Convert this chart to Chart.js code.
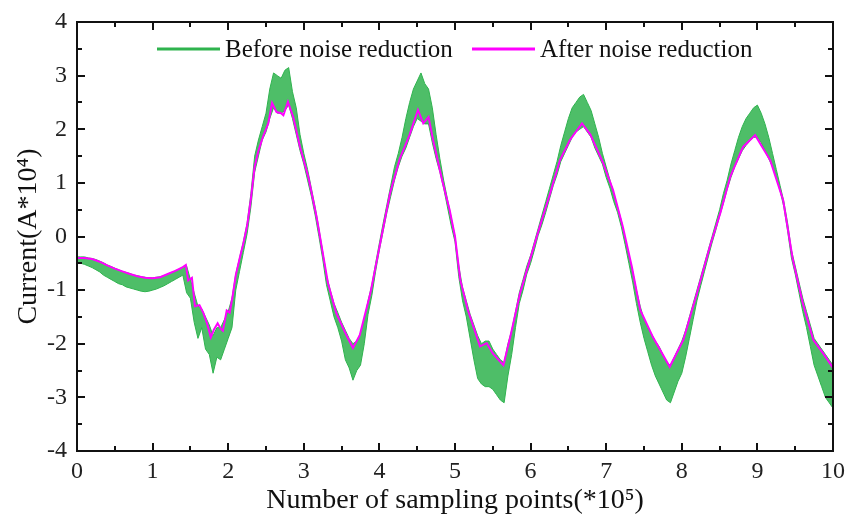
<!DOCTYPE html>
<html>
<head>
<meta charset="utf-8">
<script src="https://cdn.jsdelivr.net/npm/chart.js@4.4.1/dist/chart.umd.min.js"></script>
<style>
    html, body { margin: 0; padding: 0; background: #fff; }
</style>
</head>
<body>
<canvas id="currentChart" width="845" height="519"></canvas>
<script>
// Сигнал после шумоподавления (x в единицах *10^5, y в единицах A*10^4)
const afterX = [0, 0.1, 0.2, 0.3, 0.4, 0.5, 0.6, 0.7, 0.8, 0.9, 1.0, 1.1, 1.2, 1.3, 1.4, 1.44, 1.47, 1.52, 1.56,
    1.62, 1.67, 1.72, 1.77, 1.81, 1.86, 1.9, 1.93, 1.98, 2.02, 2.06, 2.1, 2.16, 2.2, 2.25, 2.3, 2.35, 2.4, 2.46,
    2.53, 2.58, 2.64, 2.7, 2.73, 2.79, 2.86, 2.95, 3.06, 3.17, 3.26, 3.32, 3.43, 3.55, 3.65, 3.74, 3.88, 4.01,
    4.14, 4.27, 4.4, 4.51, 4.58, 4.65, 4.71, 4.83, 4.93, 5.0, 5.07, 5.17, 5.26, 5.33, 5.42, 5.5, 5.64, 5.73,
    5.86, 5.99, 6.12, 6.26, 6.39, 6.52, 6.68, 6.79, 6.96, 7.09, 7.22, 7.34, 7.45, 7.62, 7.84, 8.02, 8.2, 8.37,
    8.51, 8.64, 8.81, 8.97, 9.17, 9.34, 9.47, 9.6, 9.74, 9.87, 10];
const afterY = [-0.40, -0.40, -0.42, -0.47, -0.54, -0.60, -0.65, -0.70, -0.74, -0.77, -0.78, -0.76, -0.70, -0.64,
    -0.57, -0.53, -0.82, -0.77, -1.30, -1.28, -1.42, -1.62, -1.88, -1.74, -1.62, -1.72, -1.76, -1.38, -1.42,
    -1.10, -0.72, -0.36, -0.13, 0.20, 0.70, 1.30, 1.60, 1.86, 2.11, 2.49, 2.32, 2.30, 2.26, 2.51, 2.23, 1.67,
    1.11, 0.36, -0.38, -0.87, -1.43, -1.80, -2.08, -1.84, -1.06, -0.13, 0.80, 1.45, 1.90, 2.36, 2.11, 2.23,
    1.80, 1.05, 0.49, 0.00, -0.81, -1.37, -1.75, -2.05, -1.99, -2.18, -2.40, -1.88, -1.06, -0.44, 0.18, 0.81,
    1.43, 1.80, 2.11, 1.90, 1.37, 0.87, 0.18, -0.57, -1.37, -1.88, -2.43, -1.93, -1.06, -0.19, 0.44, 1.11,
    1.67, 1.89, 1.42, 0.68, -0.44, -1.24, -1.93, -2.18, -2.45];

// Сигнал до шумоподавления: верхняя и нижняя огибающая шума, шаг 0.05
const beforeX = Array.from({ length: 201 }, (_, i) => +(i * 0.05).toFixed(2));
const beforeHi = [
    -0.38, -0.38, -0.38, -0.40, -0.41, -0.43, -0.46, -0.49, -0.53, -0.56,
    -0.59, -0.62, -0.65, -0.67, -0.69, -0.72, -0.73, -0.75, -0.76, -0.77,
    -0.77, -0.76, -0.75, -0.73, -0.70, -0.67, -0.64, -0.61, -0.57, -0.55,
    -0.80, -1.05, -1.30, -1.35, -1.50, -1.65, -1.85, -1.70, -1.70, -1.55,
    -1.40, -1.15, -0.70, -0.40, -0.10, 0.25, 0.80, 1.50, 1.80, 2.05,
    2.30, 2.75, 3.05, 3.00, 2.95, 3.10, 3.15, 2.70, 2.40, 1.90,
    1.55, 1.25, 0.90, 0.55, 0.15, -0.28, -0.72, -1.00, -1.25, -1.42,
    -1.60, -1.75, -1.90, -2.00, -1.95, -1.80, -1.55, -1.20, -0.90, -0.50,
    -0.12, 0.25, 0.60, 0.95, 1.30, 1.55, 1.85, 2.20, 2.50, 2.75,
    2.90, 3.05, 2.85, 2.75, 2.40, 1.90, 1.45, 1.05, 0.70, 0.35,
    0.00, -0.55, -0.95, -1.20, -1.45, -1.65, -1.85, -2.00, -1.95, -1.95,
    -2.10, -2.20, -2.30, -2.35, -2.00, -1.75, -1.40, -1.05, -0.80, -0.55,
    -0.35, -0.10, 0.15, 0.40, 0.65, 0.90, 1.15, 1.40, 1.70, 1.95,
    2.20, 2.40, 2.50, 2.60, 2.65, 2.50, 2.35, 2.10, 1.85, 1.55,
    1.30, 1.05, 0.80, 0.55, 0.30, -0.05, -0.35, -0.65, -1.00, -1.30,
    -1.55, -1.70, -1.82, -1.95, -2.05, -2.20, -2.35, -2.40, -2.25, -2.10,
    -1.95, -1.75, -1.50, -1.25, -1.00, -0.75, -0.50, -0.25, 0.00, 0.25,
    0.50, 0.80, 1.05, 1.35, 1.60, 1.85, 2.05, 2.20, 2.30, 2.40,
    2.45, 2.30, 2.10, 1.85, 1.55, 1.25, 0.95, 0.65, 0.25, -0.25,
    -0.55, -0.85, -1.15, -1.40, -1.65, -1.90, -2.00, -2.10, -2.20, -2.30,
    -2.40];
const beforeLo = [
    -0.48, -0.50, -0.52, -0.55, -0.58, -0.62, -0.66, -0.72, -0.76, -0.80,
    -0.84, -0.88, -0.90, -0.94, -0.96, -0.98, -1.00, -1.02, -1.03, -1.02,
    -1.00, -0.98, -0.95, -0.92, -0.88, -0.84, -0.80, -0.76, -0.72, -1.05,
    -1.15, -1.60, -1.90, -1.70, -2.10, -2.20, -2.55, -2.25, -2.30, -2.10,
    -1.90, -1.70, -1.00, -0.65, -0.30, 0.05, 0.55, 1.20, 1.50, 1.80,
    1.95, 2.20, 2.40, 2.30, 2.30, 2.35, 2.45, 2.20, 1.90, 1.60,
    1.35, 1.05, 0.75, 0.40, 0.00, -0.42, -0.90, -1.20, -1.50, -1.70,
    -1.95, -2.30, -2.45, -2.68, -2.50, -2.40, -2.00, -1.45, -1.10, -0.65,
    -0.25, 0.10, 0.45, 0.75, 1.05, 1.30, 1.50, 1.65, 1.85, 2.05,
    2.20, 2.15, 2.10, 2.10, 1.75, 1.45, 1.20, 0.90, 0.55, 0.20,
    -0.10, -0.75, -1.20, -1.50, -1.90, -2.30, -2.65, -2.75, -2.80, -2.80,
    -2.85, -2.95, -3.05, -3.10, -2.60, -2.20, -1.70, -1.25, -1.00, -0.70,
    -0.50, -0.25, 0.02, 0.22, 0.45, 0.70, 0.95, 1.15, 1.40, 1.55,
    1.70, 1.85, 1.95, 2.00, 2.05, 1.95, 1.85, 1.65, 1.50, 1.35,
    1.10, 0.90, 0.65, 0.45, 0.18, -0.15, -0.50, -0.85, -1.25, -1.60,
    -1.90, -2.15, -2.40, -2.60, -2.75, -2.90, -3.05, -3.10, -2.90, -2.70,
    -2.55, -2.25, -1.90, -1.55, -1.20, -0.92, -0.65, -0.38, -0.12, 0.12,
    0.38, 0.62, 0.88, 1.10, 1.30, 1.45, 1.60, 1.70, 1.78, 1.85,
    1.85, 1.75, 1.60, 1.45, 1.30, 1.10, 0.85, 0.55, 0.10, -0.40,
    -0.70, -1.05, -1.40, -1.70, -2.05, -2.40, -2.60, -2.80, -3.00, -3.10,
    -3.20];

const seriesLabels = ['After noise reduction', 'Before noise reduction'];
const xTicks = [0, 1, 2, 3, 4, 5, 6, 7, 8, 9, 10];
const yTicks = [-4, -3, -2, -1, 0, 1, 2, 3, 4];

const GREEN = '#2fb34e';
const PINK = '#ff00ff';
const SERIF = '"Liberation Serif", "Times New Roman", serif';

const toPoints = (xs, ys) => xs.map((x, i) => ({ x, y: ys[i] }));

// Рамка вокруг области графика и засечки внутрь
const frameTicks = {
    id: 'frameTicks',
    afterDatasetsDraw(chart) {
        const { ctx, chartArea: a, scales } = chart;
        ctx.save();
        ctx.strokeStyle = '#111';
        ctx.lineWidth = 2;
        ctx.strokeRect(a.left, a.top, a.right - a.left, a.bottom - a.top);
        ctx.beginPath();
        for (let v = 0; v <= 10; v += 0.5) {
            const px = Math.round(scales.x.getPixelForValue(v));
            const len = Number.isInteger(v) ? 8 : 5;
            ctx.moveTo(px, a.bottom); ctx.lineTo(px, a.bottom - len);
            ctx.moveTo(px, a.top); ctx.lineTo(px, a.top + len);
        }
        for (let v = -4; v <= 4; v += 0.5) {
            const py = Math.round(scales.y.getPixelForValue(v));
            const len = Number.isInteger(v) ? 8 : 5;
            ctx.moveTo(a.left, py); ctx.lineTo(a.left + len, py);
            ctx.moveTo(a.right, py); ctx.lineTo(a.right - len, py);
        }
        ctx.stroke();
        ctx.restore();
    }
};

// Легенда внутри области графика
const innerLegend = {
    id: 'innerLegend',
    afterDraw(chart) {
        const { ctx } = chart;
        const items = [
            { text: seriesLabels[1], color: GREEN, x: 157 },
            { text: seriesLabels[0], color: PINK, x: 472 }
        ];
        const y = 49;
        ctx.save();
        ctx.font = '25px ' + SERIF;
        ctx.textBaseline = 'middle';
        items.forEach(it => {
            ctx.strokeStyle = it.color;
            ctx.lineWidth = 3;
            ctx.beginPath();
            ctx.moveTo(it.x, y);
            ctx.lineTo(it.x + 63, y);
            ctx.stroke();
            ctx.fillStyle = '#111';
            ctx.fillText(it.text, it.x + 68, y + 1);
        });
        ctx.restore();
    }
};

new Chart(document.getElementById('currentChart'), {
    type: 'line',
    data: {
        datasets: [
            {
                label: seriesLabels[0],
                data: toPoints(afterX, afterY),
                borderColor: PINK,
                borderWidth: 2,
                pointRadius: 0,
                fill: false,
                tension: 0
            },
            {
                label: seriesLabels[1],
                data: toPoints(beforeX, beforeHi),
                borderColor: GREEN,
                borderWidth: 1,
                pointRadius: 0,
                fill: false,
                tension: 0
            },
            {
                label: seriesLabels[1] + ' (low)',
                data: toPoints(beforeX, beforeLo),
                borderColor: GREEN,
                borderWidth: 1,
                backgroundColor: 'rgba(47,179,78,0.85)',
                pointRadius: 0,
                fill: 1,
                tension: 0
            }
        ]
    },
    options: {
        responsive: false,
        animation: false,
        layout: { padding: { top: 22, right: 12, left: 0, bottom: 0 } },
        plugins: {
            legend: { display: false },
            tooltip: { enabled: false }
        },
        scales: {
            x: {
                type: 'linear',
                min: 0,
                max: 10,
                afterFit: (s) => { s.height = 68; s.paddingLeft = 0; s.paddingRight = 0; },
                afterBuildTicks: (s) => { s.ticks = xTicks.map(v => ({ value: v })); },
                grid: { display: false, drawTicks: false },
                border: { display: false },
                ticks: { color: '#222', padding: 6, maxRotation: 0, font: { family: SERIF, size: 24 } },
                title: {
                    display: true,
                    text: 'Number of sampling points(*10⁵)',
                    color: '#111',
                    padding: { top: 0, bottom: 2 },
                    font: { family: SERIF, size: 28 }
                }
            },
            y: {
                type: 'linear',
                min: -4,
                max: 4,
                afterFit: (s) => { s.width = 77; s.paddingTop = 0; s.paddingBottom = 0; },
                afterBuildTicks: (s) => { s.ticks = yTicks.map(v => ({ value: v })); },
                grid: { display: false, drawTicks: false },
                border: { display: false },
                ticks: { color: '#222', padding: 10, font: { family: SERIF, size: 24 } },
                title: {
                    display: true,
                    text: 'Current(A*10⁴)',
                    color: '#111',
                    padding: { top: 12, bottom: 0 },
                    font: { family: SERIF, size: 28 }
                }
            }
        }
    },
    plugins: [frameTicks, innerLegend]
});
</script>
</body>
</html>
